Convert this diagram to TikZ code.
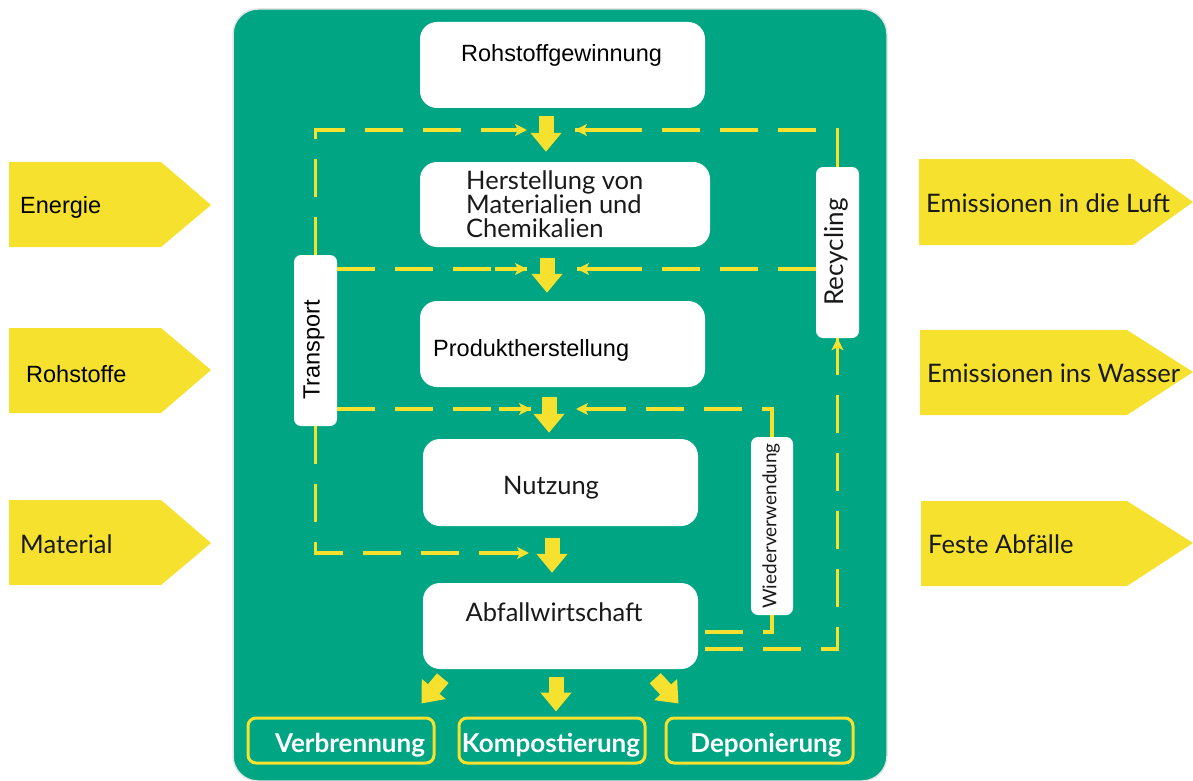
\documentclass[tikz,border=0pt]{standalone}
\usepackage{fontspec}
\setmainfont{Lato}
\newfontfamily\arial{Liberation Sans}
\usetikzlibrary{arrows.meta,calc}
\definecolor{panelgreen}{RGB}{0,165,131}
\definecolor{ylw}{RGB}{246,226,46}
\definecolor{txt}{RGB}{25,25,25}
\begin{document}
\begin{tikzpicture}[x=1pt,y=-1pt,
  wbox/.style={fill=white, rounded corners=17pt, inner sep=0pt},
  vbox/.style={fill=white, rounded corners=7pt, inner sep=0pt, minimum width=43pt},
  obox/.style={draw=ylw, line width=3pt, rounded corners=8pt, minimum width=186pt, minimum height=45pt, inner sep=0pt},
  bigarrow/.style={draw=ylw, line width=15pt, -{Triangle[length=19pt,width=30pt]}},
  dashline/.style={draw=ylw, line width=3.5pt, dash pattern=on 38pt off 20pt},
  solidend/.style={draw=ylw, line width=3.5pt, -{Stealth[length=12pt,width=12pt,inset=3pt]}},
  lfont/.style={font=\fontsize{25.5}{27}\selectfont},
  lbl/.style={anchor=base west, inner sep=0pt, text=txt, lfont},
  albl/.style={anchor=base west, inner sep=0pt, text=black, font=\arial\fontsize{23.5}{26}\selectfont},
  blbl/.style={anchor=base, inner sep=0pt, text=white, font=\bfseries\fontsize{26}{28}\selectfont},
  arrowshape/.style={fill=ylw}
]
\useasboundingbox (0,0) rectangle (1193,781);
\fill[white] (0,0) rectangle (1193,781);
% panel
\path[fill=panelgreen, draw=black!10, line width=1.5pt, rounded corners=25pt] (233,9) rectangle (887,781);

% side arrows
\fill[arrowshape] (9,162) -- (161,162) -- (211,205) -- (161,247) -- (9,247) -- cycle;
\fill[arrowshape] (9,328) -- (161,328) -- (211,370) -- (161,413) -- (9,413) -- cycle;
\fill[arrowshape] (9,500) -- (161,500) -- (211,543) -- (161,585) -- (9,585) -- cycle;
\fill[arrowshape] (919,159) -- (1133,159) -- (1193,202) -- (1133,245) -- (919,245) -- cycle;
\fill[arrowshape] (920,330) -- (1127,330) -- (1193,372) -- (1127,415) -- (920,415) -- cycle;
\fill[arrowshape] (921,501) -- (1127,501) -- (1193,543) -- (1127,586) -- (921,586) -- cycle;
\node[albl] (en) at (20,213) {Energie};
\node[albl] (ro) at (26,382) {Rohstoffe};
\node[lbl] (ma) at (20,553) {Material};
\node[lbl] (el) at (926,212) {Emissionen in die Luft};
\node[lbl] (ew) at (927,382) {Emissionen ins Wasser};
\node[lbl] (fa) at (928,553) {Feste Abfälle};

% white boxes
\node[wbox, minimum width=285pt, minimum height=86pt] (R) at (562.5,65) {};
\node[wbox, minimum width=290pt, minimum height=85pt] (H) at (565,204.5) {};
\node[wbox, minimum width=285pt, minimum height=86pt] (P) at (562.5,344) {};
\node[wbox, minimum width=275pt, minimum height=87pt] (N) at (560.5,482.5) {};
\node[wbox, minimum width=275pt, minimum height=86pt] (A) at (560.5,626) {};
\node[vbox, minimum height=171pt] (T) at (315.5,340.5) {};
\node[vbox, minimum height=171pt] (Rc) at (837.5,252.5) {};
\node[vbox, minimum width=42pt, minimum height=178pt] (W) at (772,526) {};

\node[albl] (Rt) at (461,62) {Rohstoffgewinnung};
\node[lbl] (Ht1) at (466,189) {Herstellung von};
\node[lbl] (Ht2) at (466,213) {Materialien und};
\node[lbl] (Ht3) at (466,237) {Chemikalien};
\node[albl] (Pt) at (433,356) {Produktherstellung};
\node[lbl, anchor=base] (Nt) at (551,494) {Nutzung};
\node[lbl, anchor=base] (At) at (554,621) {Abfallwirtschaft};
\node[inner sep=0pt, rotate=90, text=black, font=\arial\fontsize{23.5}{26}\selectfont] (Tt) at (314,350) {Transport};
\node[inner sep=0pt, rotate=90, text=txt, font=\fontsize{26}{28}\selectfont] (Rct) at (836,252) {Recycling};
\node[inner sep=0pt, rotate=90, text=txt, font=\fontsize{19}{21}\selectfont] (Wt) at (771,526) {Wiederverwendung};

% bottom boxes
\node[obox] (V) at (341,740.5) {};
\node[obox] (K) at (552,740.5) {};
\node[obox, minimum width=187pt] (D) at (759.5,740.5) {};
\node[blbl] (Vt) at (350,752) {Verbrennung};
\node[blbl] (Kt) at (551,752) {Kompostierung};
\node[blbl] (Dt) at (766,752) {Deponierung};

% big arrows
\draw[bigarrow] ($(R.south)+(-16.5,8)$) -- ($(H.north)+(-19,-10)$);
\draw[bigarrow] ($(H.south)+(-18,11)$) -- ($(P.north)+(-15.5,-8)$);
\draw[bigarrow] ($(P.south)+(-13.5,10)$) -- ($(N.north)+(-11.5,-6)$);
\draw[bigarrow] ($(N.south)+(-8.5,12)$) -- ($(A.north)+(-8.5,-10)$);
\draw[bigarrow] ($(A.south west)+(20,9)$) -- ($(V.north east)+(-14,-13)$);
\draw[bigarrow] ($(A.south)+(-4.5,8)$) -- ($(K.north)+(4,-5)$);
\draw[bigarrow] ($(A.south east)+(-43,9)$) -- ($(D.north west)+(14,-13)$);

% dashed connectors
\coordinate (j1) at (527,130);
\coordinate (k1) at (575,130);
\coordinate (j2) at (527,269);
\coordinate (k2) at (577,269);
\coordinate (j3) at (531,409);
\coordinate (k3) at (576,409);
\coordinate (j4) at (529,553);
\coordinate (w1) at (772,632);
\coordinate (r1) at (837.5,649);
\draw[dashline] (T.north) |- (j1);
\draw[dashline] (Rc.north) |- (k1);
\draw[dashline] (T.east |- j2) -- (j2);
\draw[dashline] (Rc.west |- k2) -- (k2);
\draw[dashline] (T.east |- j3) -- (j3);
\draw[dashline] (W.north) |- (k3);
\draw[dashline] (T.south) |- (j4);
\draw[dashline] ($(A.east |- w1)+(7,0)$) -- (w1) -- (W.south);
\draw[dashline] ($(A.east |- r1)+(7,0)$) -- (r1) -- (Rc.south);
% solid arrow ends
\draw[solidend] ($(j1)+(-32,0)$) -- (j1);
\draw[solidend] ($(k1)+(32,0)$) -- (k1);
\draw[solidend] ($(j2)+(-32,0)$) -- (j2);
\draw[solidend] ($(k2)+(32,0)$) -- (k2);
\draw[solidend] ($(j3)+(-32,0)$) -- (j3);
\draw[solidend] ($(k3)+(32,0)$) -- (k3);
\draw[solidend] ($(j4)+(-32,0)$) -- (j4);
\draw[solidend] ($(Rc.south)+(0,32)$) -- (Rc.south);
\end{tikzpicture}
\end{document}
